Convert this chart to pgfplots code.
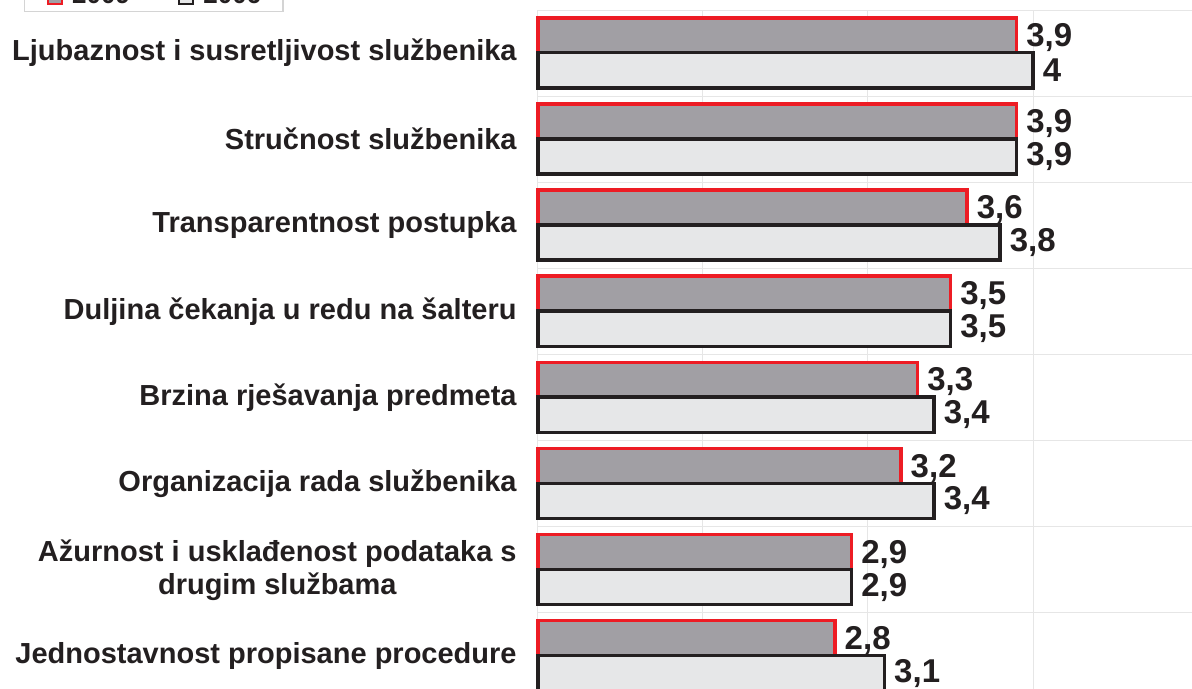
\documentclass[border=0pt]{standalone}
\usepackage{fontspec}
\setmainfont{Liberation Sans}
\usepackage{pgfplots}
\usepackage{pgfplotstable}
\pgfplotsset{compat=1.18}
\definecolor{redE}{HTML}{ED1C24}
\definecolor{blk}{HTML}{231F20}
\definecolor{darkfill}{HTML}{A19FA4}
\definecolor{lightfill}{HTML}{E6E7E8}
\definecolor{gridc}{HTML}{E6E6E6}
\definecolor{legc}{HTML}{D4D4D4}
\pgfplotstableread{
idx v
0 3.9
1 3.9
2 3.6
3 3.5
4 3.3
5 3.2
6 2.9
7 2.8
}\tnine
\pgfplotstableread{
idx v
0 4
1 3.9
2 3.8
3 3.5
4 3.4
5 3.4
6 2.9
7 3.1
}\tsix
\begin{document}
\begin{tikzpicture}
\begin{axis}[
  at={(0,0)}, anchor=north west,
  scale only axis, width=330pt, height=344.5pt,
  clip=false,
  xbar, bar width=0.41,
  xmin=0, xmax=4, ymin=-0.5, ymax=7.5, y dir=reverse,
  x filter/.expression={x-1},
  xtick={0,1,2,3,4}, xticklabels={},
  ytick={0,...,7},
  yticklabels={Ljubaznost i susretljivost službenika, Stručnost službenika, Transparentnost postupka, Duljina čekanja u redu na šalteru, Brzina rješavanja predmeta, Organizacija rada službenika, {Ažurnost i usklađenost podataka s\\drugim službama}, Jednostavnost propisane procedure},
  minor ytick={-0.5,0.5,...,7.5},
  xmajorgrids, yminorgrids,
  grid style={draw=gridc, line width=0.5pt},
  minor grid style={draw=gridc, line width=0.5pt},
  axis line style={draw=gridc, line width=0.5pt},
  major tick length=0pt, minor tick length=0pt,
  y tick label style={font=\fontsize{14.5}{16.5}\selectfont\bfseries, align=center, inner sep=0pt, xshift=-10.5pt, text=blk},
  point meta=explicit,
  nodes near coords,
  nodes near coords style={font=\fontsize{16.5}{17}\selectfont\bfseries, anchor=west, inner sep=0pt, xshift=4pt, text=blk},
  /pgf/number format/.cd, use comma, fixed, precision=1, assume math mode=true,
  /pgfplots/.cd,
  legend columns=2,
  legend style={at={(rel axis cs:0,1)}, anchor=south west, xshift=-257pt, yshift=-1pt,
    draw=legc, line width=0.75pt, fill=white,
    font=\fontsize{13}{15}\selectfont\bfseries, text=blk,
    inner xsep=11pt, inner ysep=2.5pt,
    nodes={inner sep=0pt, anchor=base west},
    /tikz/every odd column/.append style={column sep=4.5pt},
    /tikz/every even column/.append style={column sep=24pt}},
]
\addplot[fill=darkfill, draw=redE, line width=1.75pt, bar shift=-0.205,
  every node near coord/.append style={yshift=-1pt},
  legend image code/.code={\draw[fill=darkfill, draw=redE, line width=1.2pt] (0pt,-0.5pt) rectangle (7pt,6.5pt);}]
  table[x=v, y=idx, meta=v] {\tnine};
\addlegendentry{2009}
\addplot[fill=lightfill, draw=blk, line width=1.75pt, bar shift=0.2,
  legend image code/.code={\draw[fill=lightfill, draw=blk, line width=1.2pt] (0pt,-0.5pt) rectangle (7pt,6.5pt);}]
  table[x=v, y=idx, meta=v] {\tsix};
\addlegendentry{2006}
\end{axis}
\pgfresetboundingbox
\path[use as bounding box] (-269pt,5pt) rectangle (327pt,-339.5pt);
\end{tikzpicture}
\end{document}
